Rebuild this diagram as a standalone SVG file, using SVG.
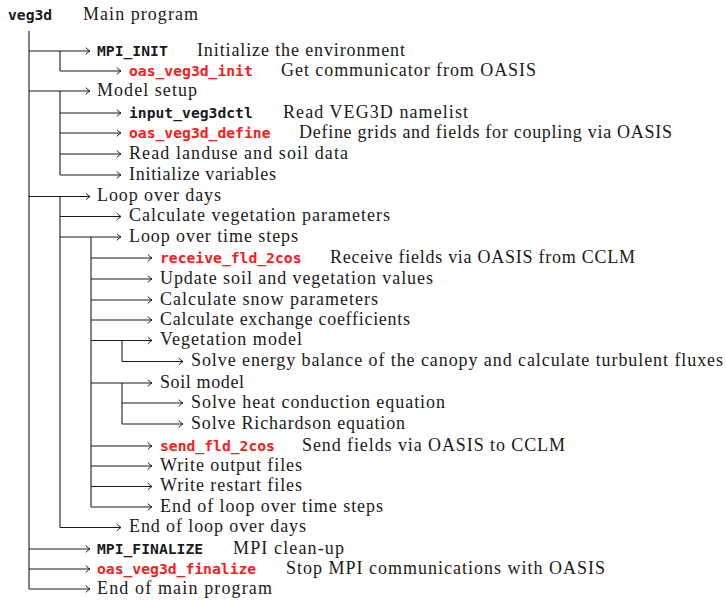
<svg xmlns="http://www.w3.org/2000/svg" width="726" height="600" viewBox="0 0 726 600">
<style>
.t{font-family:'Liberation Serif','DejaVu Serif',serif;font-size:18px;fill:#1a1a1a}
.m{font-family:'DejaVu Sans Mono','Liberation Mono',monospace;font-size:14.7px;font-weight:bold;fill:#1a1a1a}
.r{fill:#ff1a1a}
.c{fill:none;stroke:#1a1a1a;stroke-width:1.1}
</style>
<defs>
<marker id="ah" markerUnits="userSpaceOnUse" markerWidth="10" markerHeight="10" viewBox="-6 -5 8 10" refX="0" refY="0" orient="auto">
<path d="M-4.2,-3.4 Q-1.6,-0.7 0,0 Q-1.6,0.7 -4.2,3.4" fill="none" stroke="#1a1a1a" stroke-width="1"/>
</marker>
</defs>
<g id="connectors" class="c">
<path d="M29,31V589"/>
<path d="M60,51V71"/>
<path d="M60,91V175"/>
<path d="M60,196.5V527.5"/>
<path d="M91,237V507"/>
<path d="M122,340.5V361.5"/>
<path d="M122,383V424"/>
<g marker-end="url(#ah)">
<path d="M29,51H90"/>
<path d="M60,71H121"/>
<path d="M29,91H90"/>
<path d="M60,113H121"/>
<path d="M60,133H121"/>
<path d="M60,154H121"/>
<path d="M60,175H121"/>
<path d="M29,196.5H90"/>
<path d="M60,216.5H121"/>
<path d="M60,237H121"/>
<path d="M91,258H152"/>
<path d="M91,279H152"/>
<path d="M91,300H152"/>
<path d="M91,320H152"/>
<path d="M91,340.5H152"/>
<path d="M122,361.5H183"/>
<path d="M91,383H152"/>
<path d="M122,403H183"/>
<path d="M122,424H183"/>
<path d="M91,446H152"/>
<path d="M91,466H152"/>
<path d="M91,486.5H152"/>
<path d="M91,507H152"/>
<path d="M60,527.5H121"/>
<path d="M29,549H90"/>
<path d="M29,569H90"/>
<path d="M29,589H90"/>
</g>
</g>
<g id="n0"><text class="m" x="8" y="20">veg3d</text><text class="t" x="83" y="20" textLength="115">Main program</text></g>
<g id="n1"><text class="m" x="97" y="55.7">MPI_INIT</text><text class="t" x="197" y="55.7" textLength="208">Initialize the environment</text></g>
<g id="n2"><text class="m r" x="129" y="75.7">oas_veg3d_init</text><text class="t" x="281" y="75.7" textLength="255">Get communicator from OASIS</text></g>
<g id="n3"><text class="t" x="97" y="95.7" textLength="100">Model setup</text></g>
<g id="n4"><text class="m" x="129" y="117.7">input_veg3dctl</text><text class="t" x="283" y="117.7" textLength="185">Read VEG3D namelist</text></g>
<g id="n5"><text class="m r" x="129" y="137.7">oas_veg3d_define</text><text class="t" x="299" y="137.7" textLength="373">Define grids and fields for coupling via OASIS</text></g>
<g id="n6"><text class="t" x="129" y="158.7" textLength="219">Read landuse and soil data</text></g>
<g id="n7"><text class="t" x="129" y="179.7" textLength="147">Initialize variables</text></g>
<g id="n8"><text class="t" x="97" y="201.2" textLength="124">Loop over days</text></g>
<g id="n9"><text class="t" x="129" y="221.2" textLength="261">Calculate vegetation parameters</text></g>
<g id="n10"><text class="t" x="129" y="241.7" textLength="169">Loop over time steps</text></g>
<g id="n11"><text class="m r" x="160" y="262.7">receive_fld_2cos</text><text class="t" x="330" y="262.7" textLength="305">Receive fields via OASIS from CCLM</text></g>
<g id="n12"><text class="t" x="160" y="283.7" textLength="273">Update soil and vegetation values</text></g>
<g id="n13"><text class="t" x="160" y="304.7" textLength="218">Calculate snow parameters</text></g>
<g id="n14"><text class="t" x="160" y="324.7" textLength="250">Calculate exchange coefficients</text></g>
<g id="n15"><text class="t" x="160" y="345.2" textLength="142">Vegetation model</text></g>
<g id="n16"><text class="t" x="191" y="366.2" textLength="532">Solve energy balance of the canopy and calculate turbulent fluxes</text></g>
<g id="n17"><text class="t" x="160" y="387.7" textLength="84">Soil model</text></g>
<g id="n18"><text class="t" x="191" y="407.7" textLength="254">Solve heat conduction equation</text></g>
<g id="n19"><text class="t" x="191" y="428.7" textLength="214">Solve Richardson equation</text></g>
<g id="n20"><text class="m r" x="160" y="450.7">send_fld_2cos</text><text class="t" x="302" y="450.7" textLength="263">Send fields via OASIS to CCLM</text></g>
<g id="n21"><text class="t" x="160" y="470.7" textLength="142">Write output files</text></g>
<g id="n22"><text class="t" x="160" y="491.2" textLength="142">Write restart files</text></g>
<g id="n23"><text class="t" x="160" y="511.7" textLength="223">End of loop over time steps</text></g>
<g id="n24"><text class="t" x="129" y="532.2" textLength="177">End of loop over days</text></g>
<g id="n25"><text class="m" x="97" y="553.7">MPI_FINALIZE</text><text class="t" x="233" y="553.7" textLength="111">MPI clean-up</text></g>
<g id="n26"><text class="m r" x="97" y="573.7">oas_veg3d_finalize</text><text class="t" x="286" y="573.7" textLength="319">Stop MPI communications with OASIS</text></g>
<g id="n27"><text class="t" x="97" y="593.7" textLength="175">End of main program</text></g>
</svg>
